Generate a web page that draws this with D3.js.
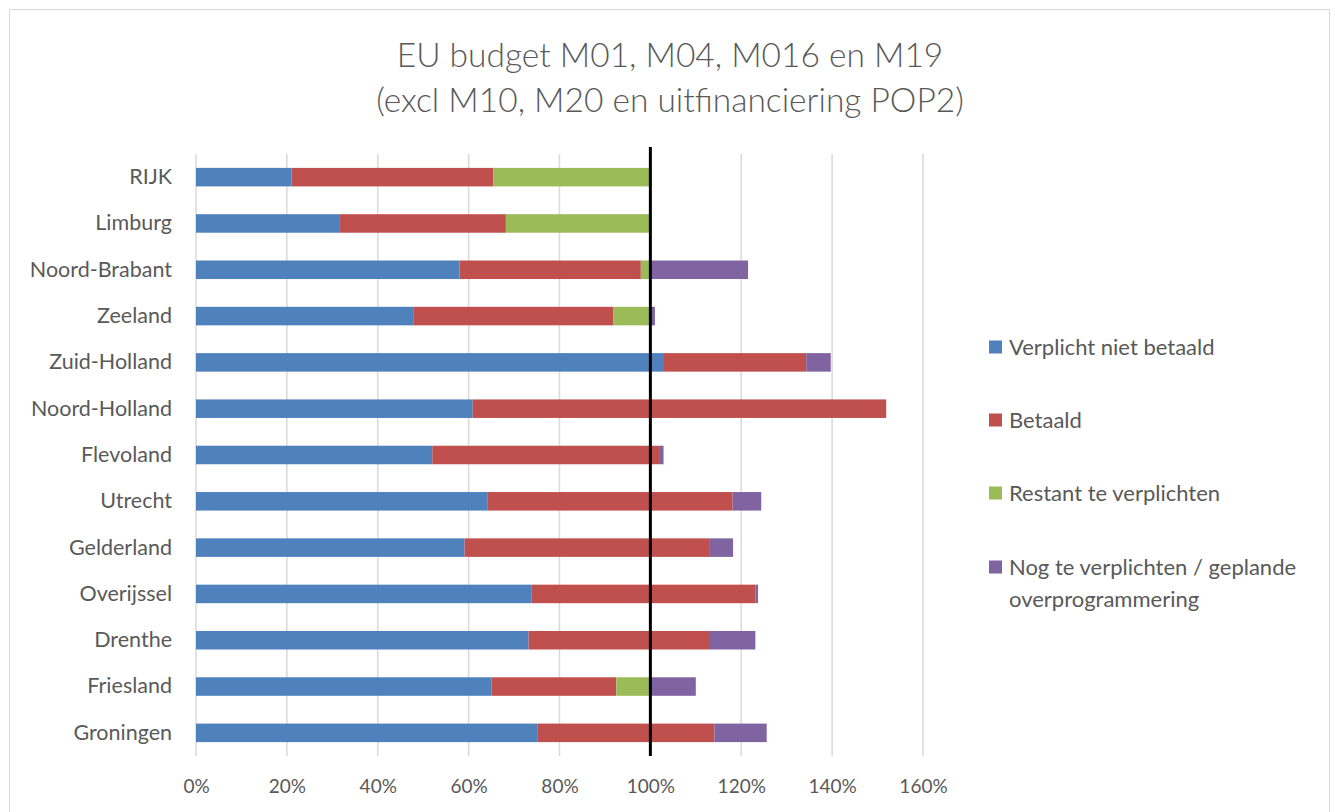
<!DOCTYPE html>
<html>
<head>
<meta charset="utf-8">
<script src="https://cdn.jsdelivr.net/npm/d3@7"></script>
<style>
  body { margin: 0; background: #fff; }
  text { font-family: Lato, "Open Sans", sans-serif; fill: #595959; }
</style>
</head>
<body>
<div id="chart"></div>
<script>
// regions, top row first
let regions = ['RIJK', 'Limburg', 'Noord-Brabant', 'Zeeland', 'Zuid-Holland', 'Noord-Holland',
  'Flevoland', 'Utrecht', 'Gelderland', 'Overijssel', 'Drenthe', 'Friesland', 'Groningen']

// shares of budget, in %
let verplichtNietBetaald = [21.0, 31.5, 58.0, 47.8, 103.0, 60.9, 52.0, 64.1, 59.1, 73.9, 73.2, 65.0, 75.1]
let betaald              = [44.4, 36.7, 39.9, 44.0, 31.3, 91.0, 50.1, 54.0, 54.0, 49.2, 39.7, 27.5, 39.0]
let restantTeVerplichten = [34.6, 31.8, 2.1, 8.2, 0, 0, 0, 0, 0, 0, 0, 7.6, 0]
let nogTeVerplichten     = [0, 0, 21.5, 1.0, 5.4, 0, 0.8, 6.3, 5.1, 0.6, 10.2, 9.9, 11.5]

let seriesNames = ['Verplicht niet betaald', 'Betaald', 'Restant te verplichten',
  'Nog te verplichten / geplande overprogrammering']
let colors = ['#4f81bd', '#c0504d', '#9bbb59', '#8064a2']
let xTicks = [0, 20, 40, 60, 80, 100, 120, 140, 160]
let titleLines = ['EU budget M01, M04, M016 en M19', '(excl M10, M20 en uitfinanciering POP2)']

let rows = regions.map((r, i) => ({
  region: r,
  s0: verplichtNietBetaald[i],
  s1: betaald[i],
  s2: restantTeVerplichten[i],
  s3: nogTeVerplichten[i]
}))
let stacked = d3.stack().keys(['s0', 's1', 's2', 's3'])(rows)

var W = 1335, H = 812
var margin = { top: 154, left: 196, right: 412, bottom: 56 }
var width = 727, height = 602

var svg = d3.select('#chart').append('svg')
  .attr('width', W)
  .attr('height', H)

// outer frame
svg.append('rect')
  .attr('x', 9.5).attr('y', 9.5)
  .attr('width', 1320).attr('height', 820)
  .attr('fill', 'none')
  .attr('stroke', '#d9d9d9')

svg.selectAll('.title')
  .data(titleLines)
  .enter().append('text')
  .attr('class', 'title')
  .attr('x', 670)
  .attr('y', (d, i) => 67 + i * 45)
  .attr('text-anchor', 'middle')
  .style('font-size', '33.5px')
  .style('font-weight', 300)
  .text(d => d)

var g = svg.append('g')
  .attr('transform', 'translate(' + margin.left + ',' + margin.top + ')')

var x = d3.scaleLinear().domain([0, 160]).range([0, width])
var y = d3.scaleBand().domain(regions).range([0, height]).paddingInner(0.6).paddingOuter(0.3)

// gridlines
g.selectAll('.grid')
  .data(xTicks)
  .enter().append('line')
  .attr('class', 'grid')
  .attr('x1', d => x(d)).attr('x2', d => x(d))
  .attr('y1', 0).attr('y2', height)
  .attr('stroke', '#d9d9d9')
  .attr('stroke-width', 1.5)

var xAxis = d3.axisBottom(x).tickValues(xTicks).tickFormat(d => d + '%').tickSize(0).tickPadding(24)
g.append('g')
  .attr('class', 'x axis')
  .attr('transform', 'translate(0,' + height + ')')
  .call(xAxis)
  .call(a => a.select('.domain').remove())
  .selectAll('text')
  .style('font-size', '19px')

var yAxis = d3.axisLeft(y).tickSize(0).tickPadding(24)
g.append('g')
  .attr('class', 'y axis')
  .call(yAxis)
  .call(a => a.select('.domain').remove())
  .selectAll('text')
  .style('font-size', '21.5px')

g.selectAll('.serie')
  .data(stacked)
  .enter().append('g')
  .attr('class', 'serie')
  .attr('fill', (d, i) => colors[i])
  .selectAll('rect')
  .data(d => d)
  .enter().append('rect')
  .attr('x', d => x(d[0]))
  .attr('y', d => y(d.data.region))
  .attr('width', d => x(d[1]) - x(d[0]))
  .attr('height', y.bandwidth())

// 100% reference line
g.append('line')
  .attr('x1', x(100)).attr('x2', x(100))
  .attr('y1', -7).attr('y2', height)
  .attr('stroke', '#000')
  .attr('stroke-width', 3)

// legend
var legend = svg.append('g').attr('transform', 'translate(989,0)')
var ly = [347, 420, 493, 567]
seriesNames.forEach((name, i) => {
  legend.append('rect')
    .attr('x', 0).attr('y', ly[i] - 6.5)
    .attr('width', 13).attr('height', 13)
    .attr('fill', colors[i])
  let t = legend.append('text')
    .attr('x', 20).attr('y', ly[i])
    .attr('dy', '0.35em')
    .style('font-size', '22px')
  if (i === 3) {
    t.append('tspan').attr('x', 20).text('Nog te verplichten / geplande')
    t.append('tspan').attr('x', 20).attr('dy', '1.45em').text('overprogrammering')
  } else {
    t.text(name)
  }
})
</script>
</body>
</html>
